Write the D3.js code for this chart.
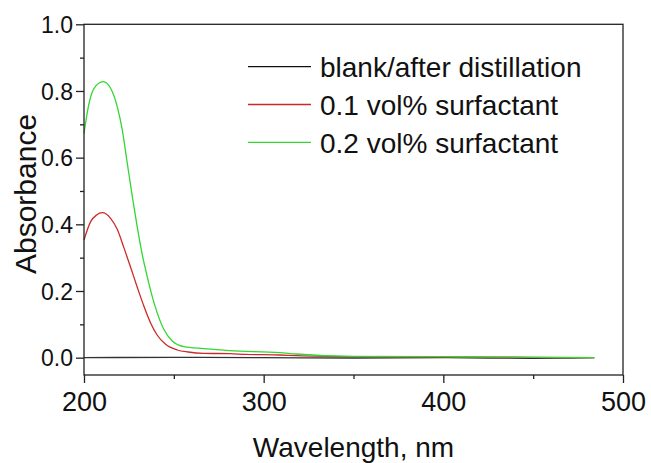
<!DOCTYPE html>
<meta charset="utf-8">
<style>
body { margin: 0; background: #fff; }
svg { font-family: "Liberation Sans", Arial, sans-serif; }
.axis path.domain { display: none; }
.axis line { stroke: #222; stroke-width: 1.3; }
.frame { fill: none; stroke: #222; stroke-width: 1.3; }
</style>
<svg width="651" height="463"></svg>
<script src="https://d3js.org/d3.v7.min.js"></script>
<script>
// wavelength (nm) / absorbance
var blankWl = [200, 250, 300, 350, 400, 450, 470, 484];
var blankAbs = [0.0, 0.001, 0.0, -0.001, 0.0, -0.002, -0.001, 0.0];

var s01Wl = [200, 203.7, 207, 210.2, 214.8, 218.5, 222.2, 225.9, 229.6, 233.3, 237, 240.7, 245.4, 251.9, 258, 266.7, 281, 290, 309, 318, 350, 400, 450, 484];
var s01Abs = [0.353, 0.408, 0.428, 0.435, 0.418, 0.385, 0.330, 0.272, 0.212, 0.155, 0.105, 0.068, 0.040, 0.023, 0.017, 0.013, 0.012, 0.010, 0.008, 0.006, 0.003, 0.002, 0.001, 0.0];

var s02Wl = [200, 202.8, 205.6, 210.7, 214.8, 218.5, 221.3, 224.1, 226.9, 229.6, 232.4, 235.2, 238, 240.7, 244.4, 249.1, 255.6, 266.7, 281, 309, 318, 350, 400, 450, 484];
var s02Abs = [0.673, 0.763, 0.808, 0.828, 0.808, 0.753, 0.683, 0.583, 0.483, 0.393, 0.310, 0.243, 0.183, 0.135, 0.085, 0.050, 0.033, 0.027, 0.021, 0.015, 0.011, 0.004, 0.003, 0.001, 0.0];

var seriesNames = ["blank/after distillation", "0.1 vol% surfactant", "0.2 vol% surfactant"];
var seriesColors = ["#333333", "#cc2a2a", "#33d633"];

var xMajor = [200, 300, 400, 500];
var xMinor = [250, 350, 450];
var yMajor = [0, 0.2, 0.4, 0.6, 0.8, 1.0];
var yMinor = [0.1, 0.3, 0.5, 0.7, 0.9];

var svg = d3.select("svg");

var x = d3.scaleLinear().domain([200, 500]).range([84, 623]);
var y = d3.scaleLinear().domain([-0.052, 1.0]).range([375, 24.3]);

var series = [
  { wl: blankWl, abs: blankAbs },
  { wl: s01Wl, abs: s01Abs },
  { wl: s02Wl, abs: s02Abs }
];

var line = d3.line()
    .x(function(d) { return x(d[0]); })
    .y(function(d) { return y(d[1]); })
    .curve(d3.curveMonotoneX);

// curves, green on top like the original
series.forEach(function(s, i) {
  svg.append("path")
      .datum(d3.zip(s.wl, s.abs))
      .attr("fill", "none")
      .attr("stroke", seriesColors[i])
      .attr("stroke-width", i == 0 ? 1.4 : 1.3)
      .attr("d", line);
});

// frame
svg.append("rect")
    .attr("class", "frame")
    .attr("x", x(200)).attr("y", y(1.0))
    .attr("width", x(500) - x(200))
    .attr("height", y(-0.052) - y(1.0));

// bottom axis
var gx = svg.append("g").attr("class", "axis")
    .attr("transform", "translate(0," + y(-0.052) + ")");
gx.call(d3.axisBottom(x).tickValues(xMajor).tickSize(8).tickFormat(d3.format("d")))
  .selectAll("text")
    .attr("font-size", 27)
    .attr("fill", "#111")
    .attr("dy", null)
    .attr("y", 36);
gx.append("g").call(d3.axisBottom(x).tickValues(xMinor).tickSize(4).tickFormat(""));

// left axis
var gy = svg.append("g").attr("class", "axis")
    .attr("transform", "translate(" + x(200) + ",0)");
gy.call(d3.axisLeft(y).tickValues(yMajor).tickSize(8).tickFormat(d3.format(".1f")))
  .selectAll("text")
    .attr("font-size", 23)
    .attr("fill", "#111")
    .attr("x", -11)
    .attr("dy", "0.36em");
gy.append("g").call(d3.axisLeft(y).tickValues(yMinor).tickSize(4).tickFormat(""));
svg.selectAll(".axis").attr("font-family", null);

// axis titles
svg.append("text")
    .attr("x", (x(200) + x(500)) / 2)
    .attr("y", 457)
    .attr("text-anchor", "middle")
    .attr("font-size", 28)
    .attr("fill", "#111")
    .text("Wavelength, nm");

svg.append("text")
    .attr("transform", "translate(36,194) rotate(-90)")
    .attr("text-anchor", "middle")
    .attr("font-size", 30)
    .attr("fill", "#111")
    .text("Absorbance");

// legend
var legend = svg.append("g").selectAll("g")
    .data(seriesNames)
  .enter().append("g")
    .attr("transform", function(d, i) { return "translate(0," + (66.7 + i * 37.8) + ")"; });

legend.append("line")
    .attr("x1", 248).attr("x2", 311)
    .attr("stroke", function(d, i) { return i == 0 ? "#111" : seriesColors[i]; })
    .attr("stroke-width", 1.3);

legend.append("text")
    .attr("x", 320)
    .attr("y", 10.5)
    .attr("font-size", 28)
    .attr("fill", "#111")
    .text(function(d) { return d; });
</script>
